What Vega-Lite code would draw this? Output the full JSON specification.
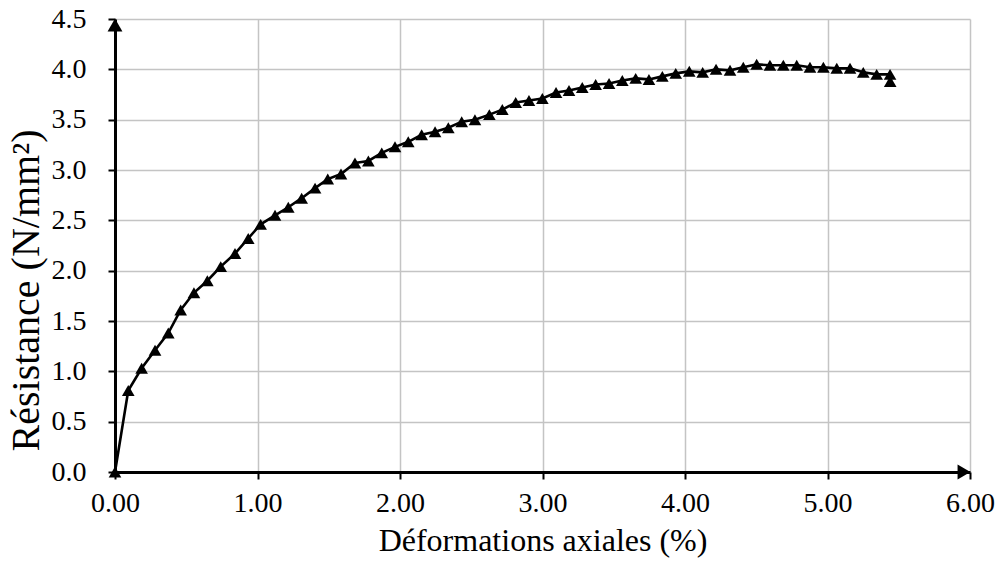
{
  "$schema": "https://vega.github.io/schema/vega-lite/v6.json",
  "width": 855,
  "height": 453,
  "autosize": {"type": "none"},
  "padding": {"left": 115, "top": 19, "right": 32, "bottom": 95},
  "background": "white",
  "config": {
    "view": {"stroke": null},
    "font": "Liberation Serif",
    "axis": {
      "labelFont": "Liberation Serif",
      "titleFont": "Liberation Serif",
      "labelColor": "black",
      "titleColor": "black",
      "titleFontWeight": "normal",
      "labelFontSize": 28,
      "gridColor": "#c4c4c4",
      "gridWidth": 1.5,
      "domainColor": "black",
      "domainWidth": 3,
      "tickColor": "black",
      "tickWidth": 2,
      "tickSize": 7
    }
  },
  "data": {
    "values": [
      {"n": 0, "strain": 0.0, "stress": 0.0},
      {"n": 1, "strain": 0.093, "stress": 0.81},
      {"n": 2, "strain": 0.187, "stress": 1.03},
      {"n": 3, "strain": 0.281, "stress": 1.21},
      {"n": 4, "strain": 0.374, "stress": 1.38},
      {"n": 5, "strain": 0.461, "stress": 1.61},
      {"n": 6, "strain": 0.554, "stress": 1.78},
      {"n": 7, "strain": 0.648, "stress": 1.9},
      {"n": 8, "strain": 0.742, "stress": 2.04},
      {"n": 9, "strain": 0.842, "stress": 2.17},
      {"n": 10, "strain": 0.935, "stress": 2.32},
      {"n": 11, "strain": 1.022, "stress": 2.46},
      {"n": 12, "strain": 1.123, "stress": 2.55},
      {"n": 13, "strain": 1.216, "stress": 2.63},
      {"n": 14, "strain": 1.31, "stress": 2.72},
      {"n": 15, "strain": 1.404, "stress": 2.82},
      {"n": 16, "strain": 1.493, "stress": 2.91},
      {"n": 17, "strain": 1.586, "stress": 2.96},
      {"n": 18, "strain": 1.684, "stress": 3.07},
      {"n": 19, "strain": 1.778, "stress": 3.09},
      {"n": 20, "strain": 1.872, "stress": 3.17},
      {"n": 21, "strain": 1.965, "stress": 3.23},
      {"n": 22, "strain": 2.058, "stress": 3.28},
      {"n": 23, "strain": 2.152, "stress": 3.35},
      {"n": 24, "strain": 2.246, "stress": 3.38},
      {"n": 25, "strain": 2.339, "stress": 3.42},
      {"n": 26, "strain": 2.433, "stress": 3.48},
      {"n": 27, "strain": 2.526, "stress": 3.5},
      {"n": 28, "strain": 2.627, "stress": 3.55},
      {"n": 29, "strain": 2.718, "stress": 3.6},
      {"n": 30, "strain": 2.812, "stress": 3.67},
      {"n": 31, "strain": 2.905, "stress": 3.69},
      {"n": 32, "strain": 2.999, "stress": 3.71},
      {"n": 33, "strain": 3.095, "stress": 3.77},
      {"n": 34, "strain": 3.186, "stress": 3.79},
      {"n": 35, "strain": 3.279, "stress": 3.82},
      {"n": 36, "strain": 3.373, "stress": 3.85},
      {"n": 37, "strain": 3.467, "stress": 3.86},
      {"n": 38, "strain": 3.56, "stress": 3.89},
      {"n": 39, "strain": 3.654, "stress": 3.91},
      {"n": 40, "strain": 3.747, "stress": 3.9},
      {"n": 41, "strain": 3.841, "stress": 3.93},
      {"n": 42, "strain": 3.935, "stress": 3.96},
      {"n": 43, "strain": 4.03, "stress": 3.98},
      {"n": 44, "strain": 4.124, "stress": 3.97},
      {"n": 45, "strain": 4.218, "stress": 4.0},
      {"n": 46, "strain": 4.316, "stress": 3.99},
      {"n": 47, "strain": 4.409, "stress": 4.02},
      {"n": 48, "strain": 4.503, "stress": 4.05},
      {"n": 49, "strain": 4.596, "stress": 4.04},
      {"n": 50, "strain": 4.69, "stress": 4.04},
      {"n": 51, "strain": 4.784, "stress": 4.04},
      {"n": 52, "strain": 4.877, "stress": 4.02},
      {"n": 53, "strain": 4.971, "stress": 4.02},
      {"n": 54, "strain": 5.065, "stress": 4.01},
      {"n": 55, "strain": 5.158, "stress": 4.01},
      {"n": 56, "strain": 5.251, "stress": 3.97},
      {"n": 57, "strain": 5.345, "stress": 3.95},
      {"n": 58, "strain": 5.439, "stress": 3.95},
      {"n": 59, "strain": 5.44, "stress": 3.88}
    ]
  },
  "encoding": {
    "x": {
      "field": "strain",
      "type": "quantitative",
      "scale": {"domain": [0, 6], "nice": false, "zero": true},
      "axis": {
        "title": "Déformations axiales (%)",
        "titleFontSize": 32,
        "values": [0, 1, 2, 3, 4, 5, 6],
        "format": ".2f",
        "labelPadding": 10,
        "titlePadding": 8,
        "labelFlush": false
      }
    },
    "y": {
      "field": "stress",
      "type": "quantitative",
      "scale": {"domain": [0, 4.5], "nice": false, "zero": true},
      "axis": {
        "title": "Résistance (N/mm²)",
        "titleFontSize": 40,
        "titleY": 271,
        "values": [0, 0.5, 1, 1.5, 2, 2.5, 3, 3.5, 4, 4.5],
        "format": ".1f",
        "labelPadding": 22,
        "titlePadding": 5,
        "labelFlush": false
      }
    }
  },
  "layer": [
    {
      "mark": {"type": "line", "color": "black", "strokeWidth": 2.6, "clip": false},
      "encoding": {"order": {"field": "n", "type": "quantitative"}}
    },
    {
      "mark": {"type": "point", "shape": "triangle-up", "filled": true, "color": "black", "opacity": 1, "size": 160, "clip": false}
    },
    {
      "data": {"values": [{"end": "x", "strain": 6, "stress": 0}]},
      "mark": {"type": "point", "shape": "triangle-right", "filled": true, "color": "black", "opacity": 1, "size": 220, "xOffset": -6, "clip": false}
    },
    {
      "data": {"values": [{"end": "y", "strain": 0, "stress": 4.5}]},
      "mark": {"type": "point", "shape": "triangle-up", "filled": true, "color": "black", "opacity": 1, "size": 220, "yOffset": 6, "clip": false}
    }
  ]
}
